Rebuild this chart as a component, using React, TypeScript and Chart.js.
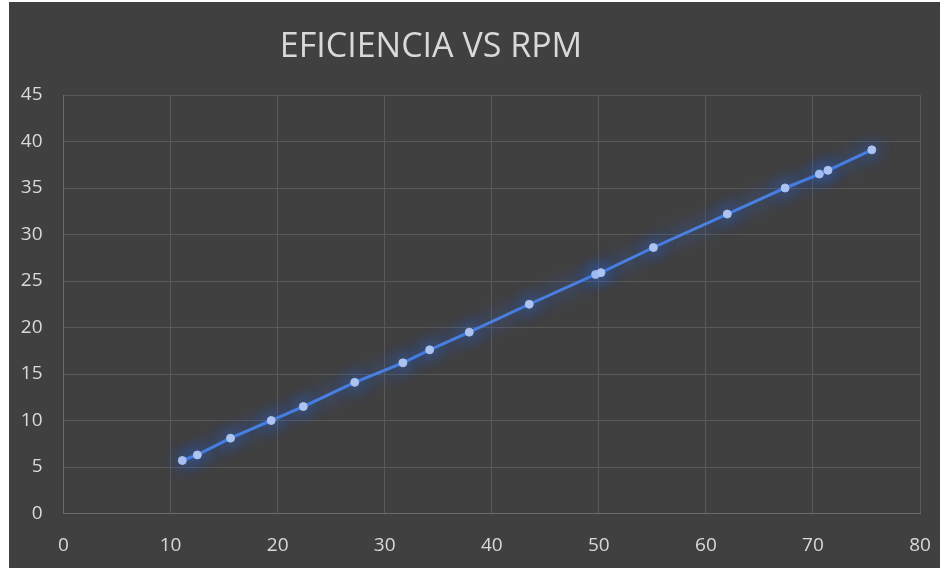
import { useEffect, useRef } from "react";
import { Chart, registerables } from "chart.js";

Chart.register(...registerables);

// Efficiency measured against shaft speed
const rpm = [11.1, 12.5, 15.6, 19.4, 22.4, 27.2, 31.7, 34.2, 37.9, 43.5, 49.7, 50.2, 55.1, 62.0, 67.4, 70.6, 71.4, 75.5];
const eficiencia = [5.7, 6.3, 8.1, 10.0, 11.5, 14.1, 16.2, 17.6, 19.5, 22.5, 25.7, 25.9, 28.6, 32.2, 35.0, 36.5, 36.9, 39.1];

const chartTitle = "EFICIENCIA VS RPM";
const xRange = { min: 0, max: 80, step: 10 };
const yRange = { min: 0, max: 45, step: 5 };

const TEXT = "#d9d9d9";
const GRID = "#595959";
const FONT = '"Open Sans", "Noto Sans", sans-serif';

// Soft blue halo around the series line and markers
const glowPlugin = {
  id: "seriesGlow",
  beforeDatasetDraw(chart: any) {
    const c = chart.ctx;
    c.save();
    c.shadowColor = "rgba(40,105,255,1)";
    c.shadowBlur = 18;
  },
  afterDatasetDraw(chart: any) {
    chart.ctx.restore();
  },
};

// Title sits a little left of centre
const titlePlugin = {
  id: "chartHeading",
  afterDraw(chart: any) {
    const c = chart.ctx;
    c.save();
    c.font = `34px ${FONT}`;
    c.fillStyle = TEXT;
    c.textAlign = "center";
    c.textBaseline = "alphabetic";
    c.fillText(chartTitle, 422, 55);
    c.restore();
  },
};

export default function App() {
  const ref = useRef<HTMLCanvasElement | null>(null);

  useEffect(() => {
    if (!ref.current) return;
    const points = rpm.map((x, i) => ({ x, y: eficiencia[i] }));
    const chart = new Chart(ref.current, {
      type: "scatter",
      data: {
        datasets: [
          {
            label: chartTitle,
            data: points,
            showLine: true,
            borderColor: "#4a80e0",
            borderWidth: 3,
            pointRadius: 4,
            pointBackgroundColor: "#b3c8f0",
            pointBorderColor: "#a6bff0",
            pointBorderWidth: 1,
          },
        ],
      },
      options: {
        responsive: false,
        animation: false,
        layout: { padding: { top: 93, right: 20, left: 0, bottom: 0 } },
        plugins: {
          legend: { display: false },
          title: { display: false },
          tooltip: { enabled: false },
        },
        scales: {
          x: {
            type: "linear",
            min: xRange.min,
            max: xRange.max,
            ticks: {
              stepSize: xRange.step,
              color: TEXT,
              font: { family: FONT, size: 19 },
              padding: 21,
              maxRotation: 0,
            },
            grid: { color: GRID, lineWidth: 1, drawTicks: false },
            border: { color: "#6a6a6a", width: 1 },
            afterFit(scale: any) {
              scale.height = 54.5;
              scale.paddingLeft = 0;
              scale.paddingRight = 0;
            },
          },
          y: {
            type: "linear",
            min: yRange.min,
            max: yRange.max,
            ticks: {
              stepSize: yRange.step,
              color: TEXT,
              font: { family: FONT, size: 19 },
              padding: 21,
            },
            grid: { color: GRID, lineWidth: 1, drawTicks: false },
            border: { color: "#6a6a6a", width: 1 },
            afterFit(scale: any) {
              scale.width = 54.5;
            },
          },
        },
      },
      plugins: [glowPlugin, titlePlugin],
    });
    return () => chart.destroy();
  }, []);

  return (
    <div style={{ position: "fixed", left: 0, top: 0, width: 942, height: 569, background: "#ffffff" }}>
      <canvas
        ref={ref}
        width={931}
        height={566}
        style={{ position: "absolute", left: 9, top: 2, width: 931, height: 566, background: "#404040" }}
      />
    </div>
  );
}
